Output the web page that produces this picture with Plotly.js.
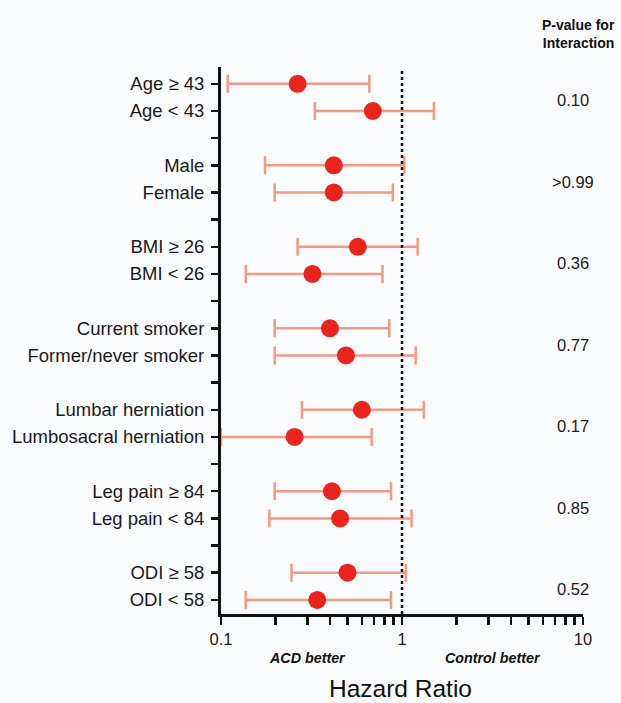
<!DOCTYPE html>
<html>
<head>
<meta charset="utf-8">
<script src="https://cdn.plot.ly/plotly-3.0.1.min.js"></script>
<style>
html,body{margin:0;padding:0;background:#fafbfd;}
#chart{width:621px;height:703px;}
</style>
</head>
<body>
<div id="chart"></div>
<script>
// ---- data ----
const subgroups = ["Age \u2265 43", "Age < 43", "Male", "Female", "BMI \u2265 26", "BMI < 26",
  "Current smoker", "Former/never smoker", "Lumbar herniation", "Lumbosacral herniation",
  "Leg pain \u2265 84", "Leg pain < 84", "ODI \u2265 58", "ODI < 58"];
const hazardRatio = [0.265, 0.69, 0.42, 0.42, 0.57, 0.32, 0.40, 0.49, 0.60, 0.255, 0.41, 0.455, 0.50, 0.34];
const ciLower     = [0.109, 0.33, 0.175, 0.198, 0.265, 0.137, 0.198, 0.198, 0.28, 0.10, 0.198, 0.185, 0.245, 0.137];
const ciUpper     = [0.66, 1.50, 1.03, 0.89, 1.22, 0.78, 0.85, 1.19, 1.32, 0.68, 0.87, 1.13, 1.05, 0.87];
const pInteraction = ["0.10", ">0.99", "0.36", "0.77", "0.17", "0.85", "0.52"];
const xTickValues = [0.1, 1, 10];
const xTickText = ["0.1", "1", "10"];

// ---- layout helpers ----
const rowOf = i => Math.floor(i / 2) * 3 + (i % 2);
const ypos = subgroups.map((_, i) => rowOf(i));
const nRows = rowOf(subgroups.length - 1) + 1;
const tickvals = [], ticktext = [];
for (let r = 0; r < nRows; r++) {
  tickvals.push(r);
  const idx = ypos.indexOf(r);
  ticktext.push(idx >= 0 ? subgroups[idx] : "");
}
// minor log ticks
const xTicks = [], xTickLabels = [];
for (let d = 0; d < 2; d++) {
  for (let m = 1; m <= 9; m++) {
    const v = m * Math.pow(10, d - 1);
    xTicks.push(v);
    const k = xTickValues.findIndex(t => Math.abs(t - v) < 1e-9);
    xTickLabels.push(k >= 0 ? xTickText[k] : "");
  }
}
xTicks.push(10); xTickLabels.push(xTickText[2]);

const trace = {
  type: "scatter",
  mode: "markers",
  x: hazardRatio,
  y: ypos,
  marker: {color: "#e8241c", size: 18, line: {width: 0}},
  error_x: {
    type: "data",
    symmetric: false,
    array: hazardRatio.map((v, i) => ciUpper[i] - v),
    arrayminus: hazardRatio.map((v, i) => v - ciLower[i]),
    color: "#f59884",
    thickness: 2.5,
    width: 9
  },
  hoverinfo: "skip",
  cliponaxis: false
};

const font = "Liberation Sans, Arial, sans-serif";
const annotations = pInteraction.map((p, g) => ({
  text: p, xref: "paper", yref: "y", x: 0.973, y: g * 3 + 0.6,
  xanchor: "center", yanchor: "middle", showarrow: false,
  font: {family: font, size: 16.5, color: "#1a1a1a"}
}));
annotations.push({
  text: "<b>P-value for<br>Interaction</b>", xref: "paper", yref: "paper",
  x: 1.095, y: 1.06, xanchor: "right", yanchor: "middle", align: "right",
  showarrow: false, font: {family: font, size: 14, color: "#111"}
});
annotations.push({
  text: "<b><i>ACD better</i></b>", xref: "paper", yref: "paper",
  x: 0.24, y: -0.08, xanchor: "center", yanchor: "middle", showarrow: false,
  font: {family: font, size: 14.3, color: "#111"}
});
annotations.push({
  text: "<b><i>Control better</i></b>", xref: "paper", yref: "paper",
  x: 0.75, y: -0.08, xanchor: "center", yanchor: "middle", showarrow: false,
  font: {family: font, size: 14.3, color: "#111"}
});
annotations.push({
  text: "Hazard Ratio", xref: "paper", yref: "paper",
  x: 0.495, y: -0.136, xanchor: "center", yanchor: "middle", showarrow: false,
  font: {family: font, size: 24.5, color: "#111"}
});

const layout = {
  width: 621, height: 703,
  margin: {l: 221, r: 38, t: 67, b: 89},
  paper_bgcolor: "#fafbfd",
  plot_bgcolor: "#fafbfd",
  showlegend: false,
  font: {family: font, color: "#111"},
  xaxis: {
    type: "log", range: [-1, 1],
    tickmode: "array", tickvals: xTicks, ticktext: xTickLabels,
    showline: true, linewidth: 3, linecolor: "#111",
    ticks: "outside", ticklen: 8, tickwidth: 2.5, tickcolor: "#111",
    showgrid: false, zeroline: false,
    tickfont: {family: font, size: 16.5, color: "#1a1a1a"}
  },
  yaxis: {
    range: [19.52, -0.62],
    tickmode: "array", tickvals: tickvals, ticktext: ticktext,
    showline: true, linewidth: 3, linecolor: "#111",
    ticks: "outside", ticklen: 7, tickwidth: 2.5, tickcolor: "#111",
    ticklabelstandoff: 3,
    showgrid: false, zeroline: false,
    tickfont: {family: font, size: 18.5, color: "#1a1a1a"}
  },
  shapes: [{
    type: "line", xref: "x", yref: "paper", x0: 1, x1: 1, y0: 0, y1: 0.995,
    line: {color: "#111", width: 2.5, dash: "dot"}
  }],
  annotations: annotations
};

Plotly.newPlot("chart", [trace], layout, {staticPlot: true, displayModeBar: false});
</script>
</body>
</html>
